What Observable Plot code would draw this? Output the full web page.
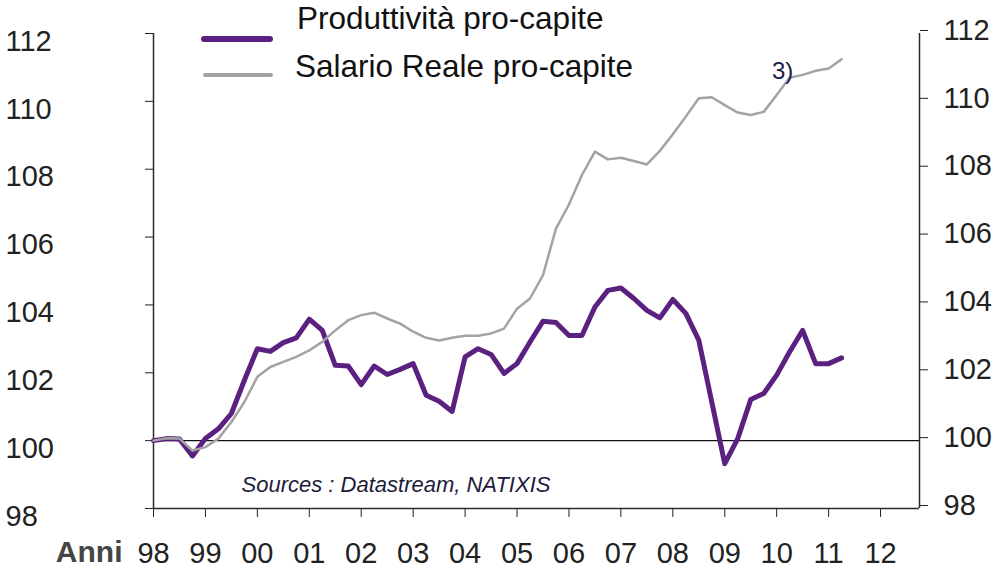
<!DOCTYPE html>
<html><head><meta charset="utf-8">
<script src="https://cdn.jsdelivr.net/npm/d3@7"></script>
<script src="https://cdn.jsdelivr.net/npm/@observablehq/plot@0.6"></script>
<style>
body{margin:0;background:#fff;font-family:"Liberation Sans",Arial,sans-serif;}
#wrap{position:relative;width:1000px;height:577px;overflow:hidden;}
.sw{position:absolute;border-radius:3px;}
.lt{position:absolute;font-size:31.5px;color:#111;white-space:nowrap;line-height:1;}
#frag{position:absolute;left:772px;top:58px;font-size:24px;color:#1b1b4f;line-height:26px;white-space:nowrap;}
</style></head><body>
<div id="wrap"></div>
<script>
const quarters = [
  1998.00,1998.25,1998.50,1998.75,1999.00,1999.25,1999.50,1999.75,
  2000.00,2000.25,2000.50,2000.75,2001.00,2001.25,2001.50,2001.75,
  2002.00,2002.25,2002.50,2002.75,2003.00,2003.25,2003.50,2003.75,
  2004.00,2004.25,2004.50,2004.75,2005.00,2005.25,2005.50,2005.75,
  2006.00,2006.25,2006.50,2006.75,2007.00,2007.25,2007.50,2007.75,
  2008.00,2008.25,2008.50,2008.75,2009.00,2009.25,2009.50,2009.75,
  2010.00,2010.25,2010.50,2010.75,2011.00,2011.25
];
const produttivita = [
  100.00,100.06,100.05,99.55,100.06,100.35,100.80,101.78,
  102.71,102.63,102.89,103.03,103.58,103.25,102.22,102.20,
  101.65,102.20,101.95,102.10,102.27,101.34,101.16,100.86,
  102.47,102.71,102.54,101.98,102.27,102.91,103.52,103.48,
  103.10,103.10,103.94,104.43,104.50,104.19,103.84,103.62,
  104.16,103.75,102.96,101.14,99.32,100.06,101.21,101.39,
  101.93,102.62,103.25,102.27,102.27,102.44
];
const salario = [
  100.00,100.07,100.06,99.71,99.81,100.06,100.55,101.14,
  101.88,102.17,102.32,102.47,102.66,102.91,103.25,103.55,
  103.70,103.77,103.60,103.45,103.21,103.03,102.95,103.03,
  103.09,103.09,103.16,103.30,103.89,104.19,104.88,106.25,
  106.96,107.83,108.52,108.29,108.34,108.24,108.14,108.54,
  109.03,109.55,110.09,110.12,109.89,109.67,109.60,109.69,
  110.19,110.70,110.78,110.90,110.97,111.24
];
const yearTicks = [1998,1999,2000,2001,2002,2003,2004,2005,2006,2007,2008,2009,2010,2011,2012];
const yearLabels = ["98","99","00","01","02","03","04","05","06","07","08","09","10","11","12"];
const yTicks = [98,100,102,104,106,108,110,112];
const seriesNames = ["Produttività pro-capite","Salario Reale pro-capite"];
const seriesColors = ["#5b2180","#a3a3a3"];
const xDomain = [1998, 2012.75];
const yDomain = [98, 112];
const baseline = [100];
const sourceText = ["Sources : Datastream, NATIXIS"];
const axisTitle = ["Anni"];
const fragmentText = "3)";

const prodRows = quarters.map((q, i) => ({date: q, value: produttivita[i]}));
const salRows = quarters.map((q, i) => ({date: q, value: salario[i]}));

const chart = Plot.plot({
  width: 1000, height: 577,
  marginLeft: 153, marginRight: 81, marginTop: 33, marginBottom: 69,
  style: {fontFamily: "'Liberation Sans', Arial, sans-serif", background: "transparent", color: "#111", overflow: "visible"},
  x: {domain: xDomain, axis: null, label: null},
  y: {domain: yDomain, axis: null, label: null},
  marks: [
    Plot.ruleX([xDomain[0], xDomain[1]], {stroke: "#2a2a2a", strokeWidth: 1.5}),
    Plot.ruleY([yDomain[0]], {stroke: "#2a2a2a", strokeWidth: 1.5}),
    Plot.ruleY(baseline, {stroke: "#111", strokeWidth: 1.3}),
    Plot.axisY({anchor: "left", ticks: yTicks, tickSize: 8, text: null, color: "#222", label: null}),
    Plot.axisY({anchor: "left", ticks: yTicks, tickSize: 0, tickPadding: 0, textAnchor: "start", dx: -148, dy: 8, fontSize: 29, color: "#222", tickFormat: d => String(d), label: null}),
    Plot.axisY({anchor: "right", ticks: yTicks, tickSize: 8, tickPadding: 16, dy: -3, fontSize: 29, color: "#222", tickFormat: d => String(d), label: null}),
    Plot.axisX({anchor: "bottom", ticks: yearTicks, tickSize: 9, tickPadding: 25, fontSize: 29, color: "#222", tickFormat: d => yearLabels[yearTicks.indexOf(d)], label: null}),
    Plot.line(prodRows, {x: "date", y: "value", stroke: seriesColors[0], strokeWidth: 5, strokeLinejoin: "round"}),
    Plot.line(salRows, {x: "date", y: "value", stroke: seriesColors[1], strokeWidth: 2.5, strokeLinejoin: "round"}),
    Plot.text(sourceText, {frameAnchor: "bottom-left", dx: 88, dy: -17, lineAnchor: "bottom", textAnchor: "start", fontSize: 22, fontStyle: "italic", fill: "#1c1c3a"}),
    Plot.text(axisTitle, {frameAnchor: "bottom-left", dx: -31, dy: 53, lineAnchor: "bottom", textAnchor: "end", fontSize: 30, fontWeight: "bold", fill: "#444"})
  ]
});

const wrap = document.getElementById("wrap");
wrap.appendChild(chart);

const leg = [
  {name: seriesNames[0], color: seriesColors[0], lx: 201, ly: 36, lw: 72, lh: 6, tx: 297, ty: 3},
  {name: seriesNames[1], color: seriesColors[1], lx: 203, ly: 73, lw: 70, lh: 3.5, tx: 295, ty: 51}
];
leg.forEach(d => {
  const s = document.createElement("div");
  s.className = "sw";
  s.style.cssText += `left:${d.lx}px;top:${d.ly}px;width:${d.lw}px;height:${d.lh}px;background:${d.color};`;
  wrap.appendChild(s);
  const t = document.createElement("div");
  t.className = "lt";
  t.style.left = d.tx + "px";
  t.style.top = d.ty + "px";
  t.textContent = d.name;
  wrap.appendChild(t);
});
const frag = document.createElement("div");
frag.id = "frag";
frag.textContent = fragmentText;
wrap.appendChild(frag);
</script>
</body></html>
